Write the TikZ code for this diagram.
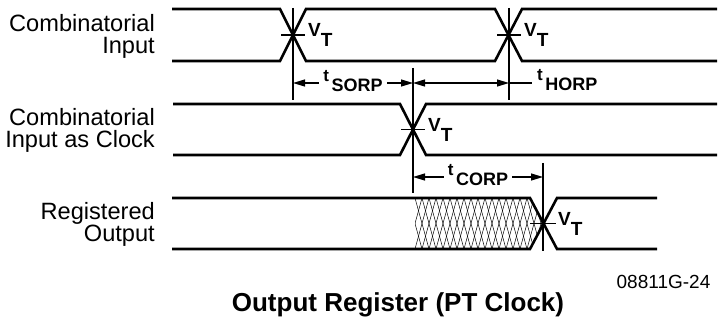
\documentclass[tikz,border=0pt]{standalone}
\usepackage{fontspec}
\setmainfont{Liberation Sans}
\usetikzlibrary{arrows.meta}

\newcommand{\vthresh}{{\fontsize{19}{19}\selectfont\bfseries V}\raisebox{-10pt}{\fontsize{19}{19}\selectfont\bfseries T}}
\newcommand{\tparam}[1]{\raisebox{10pt}{\fontsize{17}{17}\selectfont\bfseries t}\hspace{2.5pt}{\fontsize{18}{18}\selectfont\bfseries #1}}

\begin{document}
\begin{tikzpicture}[
  x=1pt, y=-1pt,
  every node/.style={inner sep=0pt, text=black},
  signal/.style={line width=2.6pt, line join=miter},
  marker/.style={line width=1.1pt},
  hatch/.style={line width=0.5pt},
  timing/.style={
    line width=1.1pt,
    {Triangle[length=12pt, width=7pt]}-{Triangle[length=12pt, width=7pt]},
  },
  signame/.style={
    font=\fontsize{23.6}{21.5}\selectfont,
    align=right,
    anchor=east,
  },
  vtlabel/.style={anchor=base west, xshift=15pt, yshift=-2pt},
  dimlabel/.style={fill=white, inner xsep=4pt, inner ysep=1pt, anchor=base, yshift=-9pt},
]
  \useasboundingbox (0,0) rectangle (718,323);

  % crossing points
  \coordinate (ci1) at (293,35);
  \coordinate (ci2) at (509,35);
  \coordinate (ck)  at (413,129.5);
  \coordinate (ro)  at (543,223.5);

  % signal names
  \node[signame] (inname)  at (155,36.5) {Combinatorial\\Input};
  \node[signame] (clkname) at (155,130.5) {Combinatorial\\Input as Clock};
  \node[signame] (outname) at (155,224.5) {Registered\\Output};

  % combinatorial input
  \draw[signal] (172,9) -- (280,9) -- (306,61) -- (495,61) -- (522,9) -- (717,9);
  \draw[signal] (172,61) -- (280,61) -- (306,9) -- (495,9) -- (522,61) -- (717,61);

  % combinatorial input as clock
  \draw[signal] (173,104) -- (400,104) -- (426,155) -- (717,155);
  \draw[signal] (173,155) -- (400,155) -- (426,104) -- (717,104);

  % registered output
  \begin{scope}
    \clip (415,198) -- (530,198) -- (ro) -- (530,249) -- (415,249) -- cycle;
    \foreach \x in {401,408,...,548} {
      \draw[hatch] (\x,198) -- ++(14,51);
      \draw[hatch] (\x,249) -- ++(14,-51);
    }
  \end{scope}
  \draw[signal] (172,198) -- (530,198) -- (557,249) -- (657,249);
  \draw[signal] (172,249) -- (530,249) -- (557,198) -- (657,198);

  % reference lines
  \draw[marker] (ci1) ++(0,-27) -- ++(0,92);
  \draw[marker] (ci1) ++(-12,0) -- ++(24,0);
  \draw[marker] (ci2) ++(0,-27) -- ++(0,92);
  \draw[marker] (ci2) ++(-12,0) -- ++(24,0);
  \draw[marker] (ck) ++(0,-61.5) -- ++(0,125);
  \draw[marker] (ck) ++(-12,0) -- ++(24,0);
  \draw[marker] (ro) ++(0,-60.5) -- ++(0,88);
  \draw[marker] (ro) ++(-13,0) -- ++(26,0);

  \node[vtlabel] (vt1) at (ci1) {\vthresh};
  \node[vtlabel] (vt2) at (ci2) {\vthresh};
  \node[vtlabel] (vt3) at (ck)  {\vthresh};
  \node[vtlabel] (vt4) at (ro)  {\vthresh};

  % timing parameters
  \coordinate (sorpA) at (293,83);
  \coordinate (sorpB) at (413,83);
  \coordinate (horpB) at (509,83);
  \coordinate (horpC) at (532,83);
  \coordinate (corpA) at (413,177);
  \coordinate (corpB) at (543,177);

  \draw[timing] (sorpA) -- node[dimlabel] (tsorp) {\tparam{SORP}} (sorpB);
  \draw[timing] (sorpB) -- (horpB);
  \draw[marker] (horpB) -- (horpC);
  \node[anchor=base west, xshift=5pt, yshift=-8pt] (thorp) at (horpC) {\tparam{HORP}};
  \draw[timing] (corpA) -- node[dimlabel] (tcorp) {\tparam{CORP}} (corpB);

  % captions
  \node[font=\fontsize{19}{19}\selectfont] (figno) at (663.5,281.5) {08811G-24};
  \node[font=\fontsize{26}{26}\selectfont\bfseries] (title) at (398,305) {Output Register (PT Clock)};
\end{tikzpicture}
\end{document}
